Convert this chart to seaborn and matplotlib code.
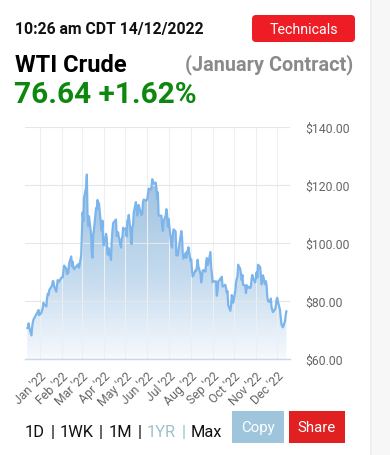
import numpy as np
import pandas as pd
import matplotlib
matplotlib.use("Agg")
import matplotlib.pyplot as plt
import matplotlib.dates as mdates
import seaborn as sns
from matplotlib.patches import FancyBboxPatch, Rectangle, Polygon

# ---------------- data (WTI front-month daily closes) ----------------
dec21_days = [14, 15, 16, 17, 20, 21, 22, 23, 27, 28, 29, 30, 31]
dec21_close = [70.73, 70.87, 72.38, 70.86, 68.23, 71.12, 72.76, 73.79, 75.57, 75.98, 76.56, 76.99, 75.21]
jan_days = [3, 4, 5, 6, 7, 10, 11, 12, 13, 14, 18, 19, 20, 21, 24, 25, 26, 27, 28, 31]
jan_close = [76.08, 76.99, 77.85, 79.46, 78.90, 78.23, 81.22, 82.64, 82.12, 83.82, 85.43, 86.96, 86.90, 85.14,
             83.31, 85.60, 87.35, 86.61, 86.82, 88.15]
feb_days = [1, 2, 3, 4, 7, 8, 9, 10, 11, 14, 15, 16, 17, 18, 22, 23, 24, 25, 28]
feb_close = [88.20, 88.26, 90.27, 92.31, 91.32, 89.36, 89.66, 89.88, 93.10, 95.46, 92.07, 93.66, 91.76, 91.07,
             92.35, 92.10, 92.81, 91.59, 95.72]
mar_days = [1, 2, 3, 4, 7, 8, 9, 10, 11, 14, 15, 16, 17, 18, 21, 22, 23, 24, 25, 28, 29, 30, 31]
mar_close = [103.41, 110.60, 107.67, 115.68, 119.40, 123.70, 108.70, 106.02, 109.33, 103.01, 96.44, 95.04,
             102.98, 104.70, 112.12, 111.76, 114.93, 112.34, 113.90, 105.96, 104.24, 107.82, 100.28]
apr_days = [1, 4, 5, 6, 7, 8, 11, 12, 13, 14, 18, 19, 20, 21, 22, 25, 26, 27, 28, 29]
apr_close = [99.27, 103.28, 101.96, 96.23, 96.03, 98.26, 94.29, 100.60, 104.25, 106.95, 108.21, 102.56,
             102.75, 103.79, 102.07, 98.54, 101.70, 102.02, 105.36, 104.69]
may_days = [2, 3, 4, 5, 6, 9, 10, 11, 12, 13, 16, 17, 18, 19, 20, 23, 24, 25, 26, 27, 31]
may_close = [105.17, 102.41, 107.81, 108.26, 109.77, 103.09, 99.76, 105.71, 106.13, 110.49, 114.20, 112.40,
             109.59, 112.21, 113.23, 110.29, 109.77, 110.33, 114.09, 115.07, 114.67]
jun_days = [1, 2, 3, 6, 7, 8, 9, 10, 13, 14, 15, 16, 17, 21, 22, 23, 24, 27, 28, 29, 30]
jun_close = [115.26, 116.87, 118.87, 118.50, 119.41, 122.11, 121.51, 120.67, 120.93, 118.93, 115.31, 117.59,
             109.56, 109.52, 106.19, 104.27, 107.62, 109.57, 111.76, 109.78, 105.76]
jul_days = [1, 5, 6, 7, 8, 11, 12, 13, 14, 15, 18, 19, 20, 21, 22, 25, 26, 27, 28, 29]
jul_close = [108.43, 99.50, 98.53, 102.73, 104.79, 104.09, 95.84, 96.30, 95.78, 97.59, 102.60, 104.22,
             102.26, 96.35, 94.70, 96.70, 94.98, 97.26, 96.42, 98.62]
aug_days = [1, 2, 3, 4, 5, 8, 9, 10, 11, 12, 15, 16, 17, 18, 19, 22, 23, 24, 25, 26, 29, 30, 31]
aug_close = [93.89, 94.42, 90.66, 88.54, 89.01, 90.76, 90.50, 91.93, 94.34, 92.09, 89.41, 86.53, 88.11,
             90.50, 90.77, 90.23, 93.74, 94.89, 92.52, 93.06, 97.01, 91.64, 89.55]
sep_days = [1, 2, 6, 7, 8, 9, 12, 13, 14, 15, 16, 19, 20, 21, 22, 23, 26, 27, 28, 29, 30]
sep_close = [86.61, 86.87, 86.88, 81.94, 83.54, 86.79, 87.78, 87.31, 88.48, 85.10, 85.11, 85.73, 84.45,
             82.94, 83.49, 78.74, 76.71, 78.50, 82.15, 81.23, 79.49]
oct_days = [3, 4, 5, 6, 7, 10, 11, 12, 13, 14, 17, 18, 19, 20, 21, 24, 25, 26, 27, 28, 31]
oct_close = [83.63, 86.52, 87.76, 88.45, 92.64, 91.13, 89.35, 87.27, 89.11, 85.61, 85.46, 82.82, 85.55,
             84.51, 85.05, 84.58, 85.32, 87.91, 89.08, 87.90, 86.53]
nov_days = [1, 2, 3, 4, 7, 8, 9, 10, 11, 14, 15, 16, 17, 18, 21, 22, 23, 25, 28, 29, 30]
nov_close = [88.37, 90.00, 88.17, 92.61, 91.79, 88.91, 85.83, 86.47, 88.96, 85.87, 86.92, 85.59, 81.64,
             80.08, 79.73, 80.95, 77.94, 76.28, 77.24, 78.20, 80.55]
dec_days = [1, 2, 5, 6, 7, 8, 9, 12, 13, 14]
dec_close = [81.22, 79.98, 76.93, 74.25, 72.01, 71.46, 71.02, 73.17, 75.39, 76.64]

month_ticks = ["2022-01-01", "2022-02-01", "2022-03-01", "2022-04-01", "2022-05-01", "2022-06-01",
               "2022-07-01", "2022-08-01", "2022-09-01", "2022-10-01", "2022-11-01", "2022-12-01"]
month_labels = ["Jan '22", "Feb '22", "Mar '22", "Apr '22", "May '22", "Jun '22",
                "Jul '22", "Aug '22", "Sep '22", "Oct '22", "Nov '22", "Dec '22"]
y_ticks = [60, 80, 100, 120, 140]
y_labels = ["$60.00", "$80.00", "$100.00", "$120.00", "$140.00"]
periods = ["1D", "1WK", "1M", "1YR", "Max"]
active_period = "1YR"

# ---------------- build frame ----------------
months = [(2021, 12, dec21_days, dec21_close), (2022, 1, jan_days, jan_close), (2022, 2, feb_days, feb_close),
          (2022, 3, mar_days, mar_close), (2022, 4, apr_days, apr_close), (2022, 5, may_days, may_close),
          (2022, 6, jun_days, jun_close), (2022, 7, jul_days, jul_close), (2022, 8, aug_days, aug_close),
          (2022, 9, sep_days, sep_close), (2022, 10, oct_days, oct_close), (2022, 11, nov_days, nov_close),
          (2022, 12, dec_days, dec_close)]
rows = []
for y, m, ds, cs in months:
    for d, c in zip(ds, cs):
        rows.append((pd.Timestamp(year=y, month=m, day=d), c))
df = pd.DataFrame(rows, columns=["date", "price"])

sns.set_theme(style="white")
plt.rcParams['font.family'] = ['Roboto', 'DejaVu Sans']

W, H = 390, 456
fig = plt.figure(figsize=(W / 100, H / 100), dpi=100)
fig.patch.set_facecolor("white")
renderer = fig.canvas.get_renderer()

# background / overlay axes in pixel coordinates
bg = fig.add_axes([0, 0, 1, 1])
bg.set_xlim(0, W)
bg.set_ylim(H, 0)
bg.axis("off")


def text_width(s, fs, **kw):
    t = bg.text(0, 0, s, fontsize=fs, **kw)
    w = t.get_window_extent(renderer).width
    t.remove()
    return w


bg.add_patch(Rectangle((370, 0), 20, H, fc="#f7f7f7", ec="none"))
bg.add_patch(Rectangle((370, 0), 2, H, fc="#efefef", ec="none"))

bg.text(15, 34.3, "10:26 am CDT 14/12/2022", fontsize=11.3, fontweight="bold", color="#111111", va="baseline")
bg.add_patch(FancyBboxPatch((252, 16), 103, 27, boxstyle="round,pad=0,rounding_size=4",
                            fc="#ee1c25", ec="none"))
bg.text(303.5, 29.8, "Technicals", fontsize=10.3, color="white", ha="center", va="center")
bg.text(15, 72.3, "WTI Crude", fontsize=17, fontweight="bold", color="#000000", va="baseline")
bg.text(353, 70.7, "(January Contract)", fontsize=14.3, fontweight="bold", color="#8a8a8a",
        ha="right", va="baseline")
bg.text(14, 103.3, "76.64 +1.62%", fontsize=21.4, fontweight="bold", color="#0e870e", va="baseline")

# period selector: tokens spread evenly between x=25 and x=222
sel_fs = 11.8
tokens = []
for i, p in enumerate(periods):
    c = "#9dc0cc" if p == active_period else "#111111"
    tokens.append((p, c))
    if i < len(periods) - 1:
        tokens.append(("|", "#9dc0cc" if p == active_period else "#111111"))
widths = [text_width(t, sel_fs) for t, _ in tokens]
gap = (197.0 - sum(widths)) / (len(tokens) - 1)
x = 25.0
for (t, c), w in zip(tokens, widths):
    bg.text(x, 437, t, fontsize=sel_fs, color=c, va="baseline")
    x += w + gap

bg.add_patch(Rectangle((232, 412), 52, 32.5, fc="#9ec5dc", ec="none"))
bg.text(258, 428.5, "Copy", fontsize=10.8, color="white", ha="center", va="center")
bg.add_patch(Rectangle((289, 412), 56, 32.5, fc="#e02021", ec="none"))
bg.text(317, 428.5, "Share", fontsize=10.8, color="white", ha="center", va="center")

# ---------------- main chart ----------------
top_px, bot_px = 128.3, 360.3
ax = fig.add_axes([25 / W, (H - bot_px) / H, 265 / W, (bot_px - top_px) / H])
ax.set_facecolor("none")

sns.lineplot(data=df, x="date", y="price", ax=ax, color="#7cb5ec", lw=1.6, zorder=3)

xnum = mdates.date2num(df["date"])
x0 = mdates.date2num(pd.Timestamp("2021-12-10 22:00"))
x1 = mdates.date2num(pd.Timestamp("2022-12-19"))

verts = [(xnum[0], 60)] + list(zip(xnum, df["price"])) + [(xnum[-1], 60)]
clip = Polygon(verts, closed=True, transform=ax.transData, fc="none", ec="none")
ax.add_patch(clip)
vals = np.linspace(60, 140, 300)
stops_v = [60, 62, 87, 125, 140]
stops_c = np.array([[247, 250, 254], [243, 247, 252], [198, 220, 239], [157, 192, 222], [148, 186, 219]]) / 255
grad = np.stack([np.interp(vals, stops_v, stops_c[:, k]) for k in range(3)], axis=-1)[:, None, :]
im = ax.imshow(grad, extent=[x0, x1, 60, 140], origin="lower", aspect="auto", zorder=0.3,
               interpolation="bilinear")
im.set_clip_path(clip)

ax.set_xlim(x0, x1)
ax.set_ylim(60, 140)

tick_pos = [pd.Timestamp(t) for t in month_ticks]
ax.set_xticks(tick_pos)
ax.set_xticklabels(month_labels)
ax.set_yticks(y_ticks)
ax.set_yticklabels(y_labels)
ax.yaxis.tick_right()
ax.set_xlabel("")
ax.set_ylabel("")

ax.set_axisbelow(True)
ax.grid(axis="y", color="#e6e6e6", lw=0.8)
ax.grid(axis="x", color="#eceff3", lw=0.8)

ax.tick_params(axis="x", length=4, width=0.8, color="#ccd6eb", labelcolor="#666666", labelsize=8.8, pad=3)
ax.tick_params(axis="y", length=0, labelcolor="#666666", labelsize=8.8, pad=10.8)
for lbl in ax.get_xticklabels():
    lbl.set_rotation(45)
    lbl.set_ha("right")
    lbl.set_rotation_mode("anchor")

for s in ["top", "left", "right"]:
    ax.spines[s].set_visible(False)
ax.spines["bottom"].set_color("#ccd6eb")
ax.spines["bottom"].set_linewidth(1)
ax.spines["bottom"].set_zorder(4)

fig.savefig("out.png", dpi=100)
